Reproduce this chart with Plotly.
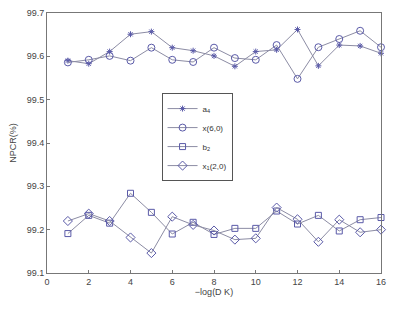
import plotly.graph_objects as go

x = list(range(1, 17))
a4 = [99.590, 99.583, 99.611, 99.651, 99.657, 99.620, 99.613, 99.601,
      99.577, 99.611, 99.615, 99.662, 99.578, 99.626, 99.624, 99.607]
x60 = [99.586, 99.592, 99.601, 99.590, 99.620, 99.592, 99.587, 99.620,
       99.596, 99.592, 99.626, 99.548, 99.621, 99.640, 99.659, 99.621]
b2 = [99.191, 99.233, 99.215, 99.284, 99.240, 99.190, 99.217, 99.189,
      99.203, 99.203, 99.243, 99.213, 99.233, 99.197, 99.223, 99.228]
x120 = [99.220, 99.237, 99.220, 99.182, 99.146, 99.230, 99.211, 99.198,
        99.177, 99.180, 99.251, 99.224, 99.172, 99.223, 99.194, 99.200]

names = ["a<sub>4</sub>", "x(6,0)", "b<sub>2</sub>", "x<sub>1</sub>(2,0)"]
symbols = ["asterisk-open", "circle-open", "square-open", "diamond-open"]
sizes = [5, 7, 6, 7]
series = [a4, x60, b2, x120]

line_col = "#8c8ca4"
mark_col = "#5a5aa8"

fig = go.Figure()
for s, n, sym, sz in zip(series, names, symbols, sizes):
    fig.add_trace(go.Scatter(
        x=x, y=s, name=n, mode="lines+markers", cliponaxis=False,
        line=dict(color=line_col, width=1),
        marker=dict(symbol=sym, size=sz, color=mark_col,
                    line=dict(color=mark_col, width=1)),
    ))

axis_common = dict(
    showline=True, linecolor="#777777", linewidth=1, mirror=True,
    ticks="inside", ticklen=3, tickcolor="#777777",
    showgrid=False, zeroline=False,
    tickfont=dict(family="Liberation Sans, Arial", size=9, color="#444444"),
)

# page body has an 8px default margin, so the figure is sized to fit the window
fig.update_layout(
    width=392, height=303,
    margin=dict(l=39, r=19, t=5, b=38, autoexpand=False),
    paper_bgcolor="white", plot_bgcolor="white",
    xaxis=dict(range=[0, 16], tickvals=list(range(0, 17, 2)),
               title=dict(text="\u2212log(D K)", standoff=2,
                          font=dict(family="Liberation Sans, Arial", size=9, color="#444444")),
               **axis_common),
    yaxis=dict(range=[99.1, 99.7], tickvals=[99.1, 99.2, 99.3, 99.4, 99.5, 99.6, 99.7],
               ticktext=["99.1", "99.2", "99.3", "99.4", "99.5", "99.6", "99.7"],
               title=dict(text="NPCR(%)", standoff=10,
                          font=dict(family="Liberation Sans, Arial", size=9, color="#444444")),
               **axis_common),
    legend=dict(x=0.343, y=0.692, xanchor="left", yanchor="top",
                bordercolor="#555555", borderwidth=1, bgcolor="white",
                font=dict(family="Liberation Sans, Arial", size=8, color="#333333"),
                tracegroupgap=0, itemwidth=30),
    showlegend=True,
)

fig.write_html("out.html")
